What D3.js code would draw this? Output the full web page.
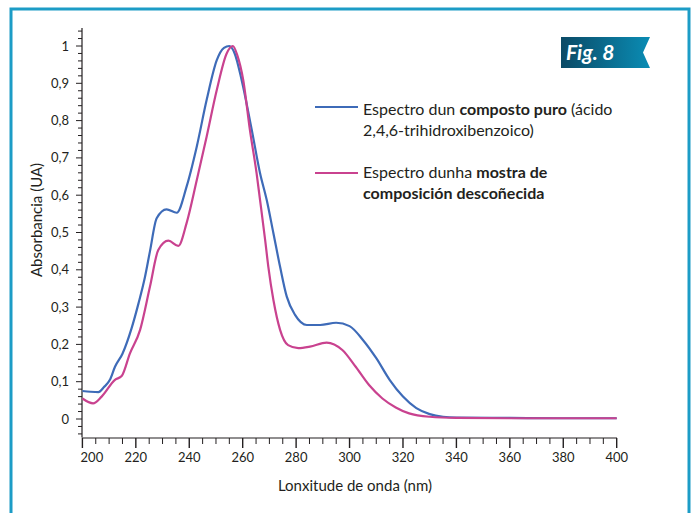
<!DOCTYPE html>
<html lang="gl">
<head>
<meta charset="UTF-8">
<title>Fig. 8</title>
<script src="https://cdn.jsdelivr.net/npm/d3@7"></script>
<style>
  body { margin: 0; background: #fff; }
  text { font-family: Lato, "Open Sans", sans-serif; fill: #231f20; }
</style>
</head>
<body>
<svg width="693" height="513"></svg>
<script>
    // espectro do composto puro (azul)
    const pureNm = [200, 203, 206, 208, 210.3, 212.2, 215, 218.4, 221, 223.4, 225.3, 227.8, 231.5, 235.3, 239, 242.8, 246.5, 250.3, 253, 255, 257, 259.6, 263.4, 266.5, 269, 271.5, 274, 276.5, 279.6, 284, 289, 295, 300, 305, 310, 315, 320, 325, 330, 335, 340, 360, 380, 400]
    const pureAbs = [0.075, 0.073, 0.072, 0.085, 0.105, 0.14, 0.175, 0.243, 0.31, 0.38, 0.45, 0.538, 0.562, 0.553, 0.623, 0.73, 0.855, 0.962, 0.995, 1.0, 0.98, 0.909, 0.775, 0.659, 0.587, 0.498, 0.408, 0.328, 0.279, 0.252, 0.252, 0.258, 0.249, 0.212, 0.163, 0.105, 0.06, 0.029, 0.013, 0.006, 0.004, 0.003, 0.002, 0.002]

    // espectro da mostra (rosa)
    const sampleNm = [200, 204, 207.2, 212.2, 214.7, 217.8, 221.6, 225.3, 228.4, 232.2, 235.9, 239, 242.8, 246.5, 250.3, 254, 256.3, 258, 260.2, 262.7, 265.2, 266.5, 268.4, 269.6, 271.5, 274, 277, 280.8, 285.2, 291.4, 297.3, 302.3, 307.3, 312.3, 317.3, 322.3, 330, 340, 360, 400]
    const sampleAbs = [0.055, 0.042, 0.06, 0.105, 0.115, 0.176, 0.239, 0.355, 0.453, 0.478, 0.464, 0.525, 0.64, 0.757, 0.882, 0.98, 1.0, 0.975, 0.909, 0.775, 0.659, 0.587, 0.48, 0.408, 0.319, 0.239, 0.198, 0.19, 0.194, 0.205, 0.185, 0.14, 0.091, 0.055, 0.031, 0.015, 0.006, 0.003, 0.002, 0.002]

    const xTicks = [200, 220, 240, 260, 280, 300, 320, 340, 360, 380, 400]
    const yTicks = [0, 0.1, 0.2, 0.3, 0.4, 0.5, 0.6, 0.7, 0.8, 0.9, 1]

    const blue = "#3e6bb8"
    const pink = "#c9428f"

    const svg = d3.select("svg")

    // marco
    svg.append("rect")
        .attr("x", 11).attr("y", 9)
        .attr("width", 678).attr("height", 520)
        .attr("fill", "none")
        .attr("stroke", "#1c9cc6")
        .attr("stroke-width", 3)

    const x = d3.scaleLinear().domain([200, 400]).range([82.4, 616.7])
    const y = d3.scaleLinear().domain([0, 1]).range([419, 46])

    const fmt = d => String(+d.toFixed(1)).replace(".", ",")

    // eixo y
    const yAxis = svg.append("g").attr("transform", "translate(82,0)")
    yAxis.append("line")
        .attr("y1", 28).attr("y2", 437.5)
        .attr("stroke", "#231f20").attr("stroke-width", 1.2)
    yAxis.selectAll(".ymin")
        .data(d3.range(-4, 105, 2).map(d => d / 100))
        .join("line")
        .attr("x1", d => Math.round(d * 100) % 10 === 0 ? -6 : -4)
        .attr("x2", 0)
        .attr("y1", d => y(d)).attr("y2", d => y(d))
        .attr("stroke", "#231f20").attr("stroke-width", 1)
    yAxis.selectAll(".ylab")
        .data(yTicks)
        .join("text")
        .attr("x", -13).attr("y", d => y(d))
        .attr("dy", "0.35em")
        .attr("text-anchor", "end")
        .attr("font-size", 13)
        .text(fmt)

    // eixo x
    const xAxis = svg.append("g").attr("transform", "translate(0,438)")
    xAxis.append("line")
        .attr("x1", 82).attr("x2", 617)
        .attr("stroke", "#231f20").attr("stroke-width", 1.2)
    xAxis.selectAll(".xmin")
        .data(d3.range(200, 401, 5))
        .join("line")
        .attr("x1", d => x(d)).attr("x2", d => x(d))
        .attr("y1", 0)
        .attr("y2", d => d % 20 === 0 ? 10 : 6)
        .attr("stroke", "#231f20").attr("stroke-width", d => d % 20 === 0 ? 1.4 : 1)
    xAxis.selectAll(".xlab")
        .data(xTicks)
        .join("text")
        .attr("x", d => d === 200 ? x(d) + 9.5 : x(d))
        .attr("y", 24)
        .attr("text-anchor", "middle")
        .attr("font-size", 13)
        .text(d => d)

    svg.append("text")
        .attr("x", 355).attr("y", 491)
        .attr("text-anchor", "middle")
        .attr("font-size", 15)
        .text("Lonxitude de onda (nm)")

    svg.append("text")
        .attr("transform", "translate(42,220) rotate(-90)")
        .attr("text-anchor", "middle")
        .attr("font-size", 15)
        .text("Absorbancia (UA)")

    // curvas
    const line = d3.line()
        .x(d => x(d[0]))
        .y(d => y(d[1]))
        .curve(d3.curveMonotoneX)

    svg.append("path")
        .attr("d", line(d3.zip(pureNm, pureAbs)))
        .attr("fill", "none").attr("stroke", blue).attr("stroke-width", 2.2)
    svg.append("path")
        .attr("d", line(d3.zip(sampleNm, sampleAbs)))
        .attr("fill", "none").attr("stroke", pink).attr("stroke-width", 2.2)

    // lenda
    const legend = svg.append("g").attr("font-size", 16)
    legend.append("line")
        .attr("x1", 315).attr("x2", 358).attr("y1", 107).attr("y2", 107)
        .attr("stroke", blue).attr("stroke-width", 2.2)
    const t1 = legend.append("text").attr("x", 363).attr("y", 115)
    t1.append("tspan").text("Espectro dun ")
    t1.append("tspan").attr("font-weight", "bold").text("composto puro")
    t1.append("tspan").text(" (ácido")
    legend.append("text").attr("x", 363).attr("y", 136).text("2,4,6-trihidroxibenzoico)")

    legend.append("line")
        .attr("x1", 315).attr("x2", 358).attr("y1", 173).attr("y2", 173)
        .attr("stroke", pink).attr("stroke-width", 2.2)
    const t2 = legend.append("text").attr("x", 363).attr("y", 178)
    t2.append("tspan").text("Espectro dunha ")
    t2.append("tspan").attr("font-weight", "bold").text("mostra de")
    legend.append("text").attr("x", 363).attr("y", 199)
        .attr("font-weight", "bold").text("composición descoñecida")

    // etiqueta Fig. 8
    const grad = svg.append("defs").append("linearGradient")
        .attr("id", "badge").attr("x1", "0%").attr("x2", "100%")
    grad.append("stop").attr("offset", "0%").attr("stop-color", "#0b4a66")
    grad.append("stop").attr("offset", "100%").attr("stop-color", "#0a8cb4")
    svg.append("polygon")
        .attr("points", "561,37 650,37 643,52.5 650,68 561,68")
        .attr("fill", "url(#badge)")
    svg.append("text")
        .attr("x", 566).attr("y", 60)
        .attr("font-size", 21).attr("font-weight", "bold").attr("font-style", "italic")
        .style("fill", "#fff")
        .text("Fig. 8")
</script>
</body>
</html>
